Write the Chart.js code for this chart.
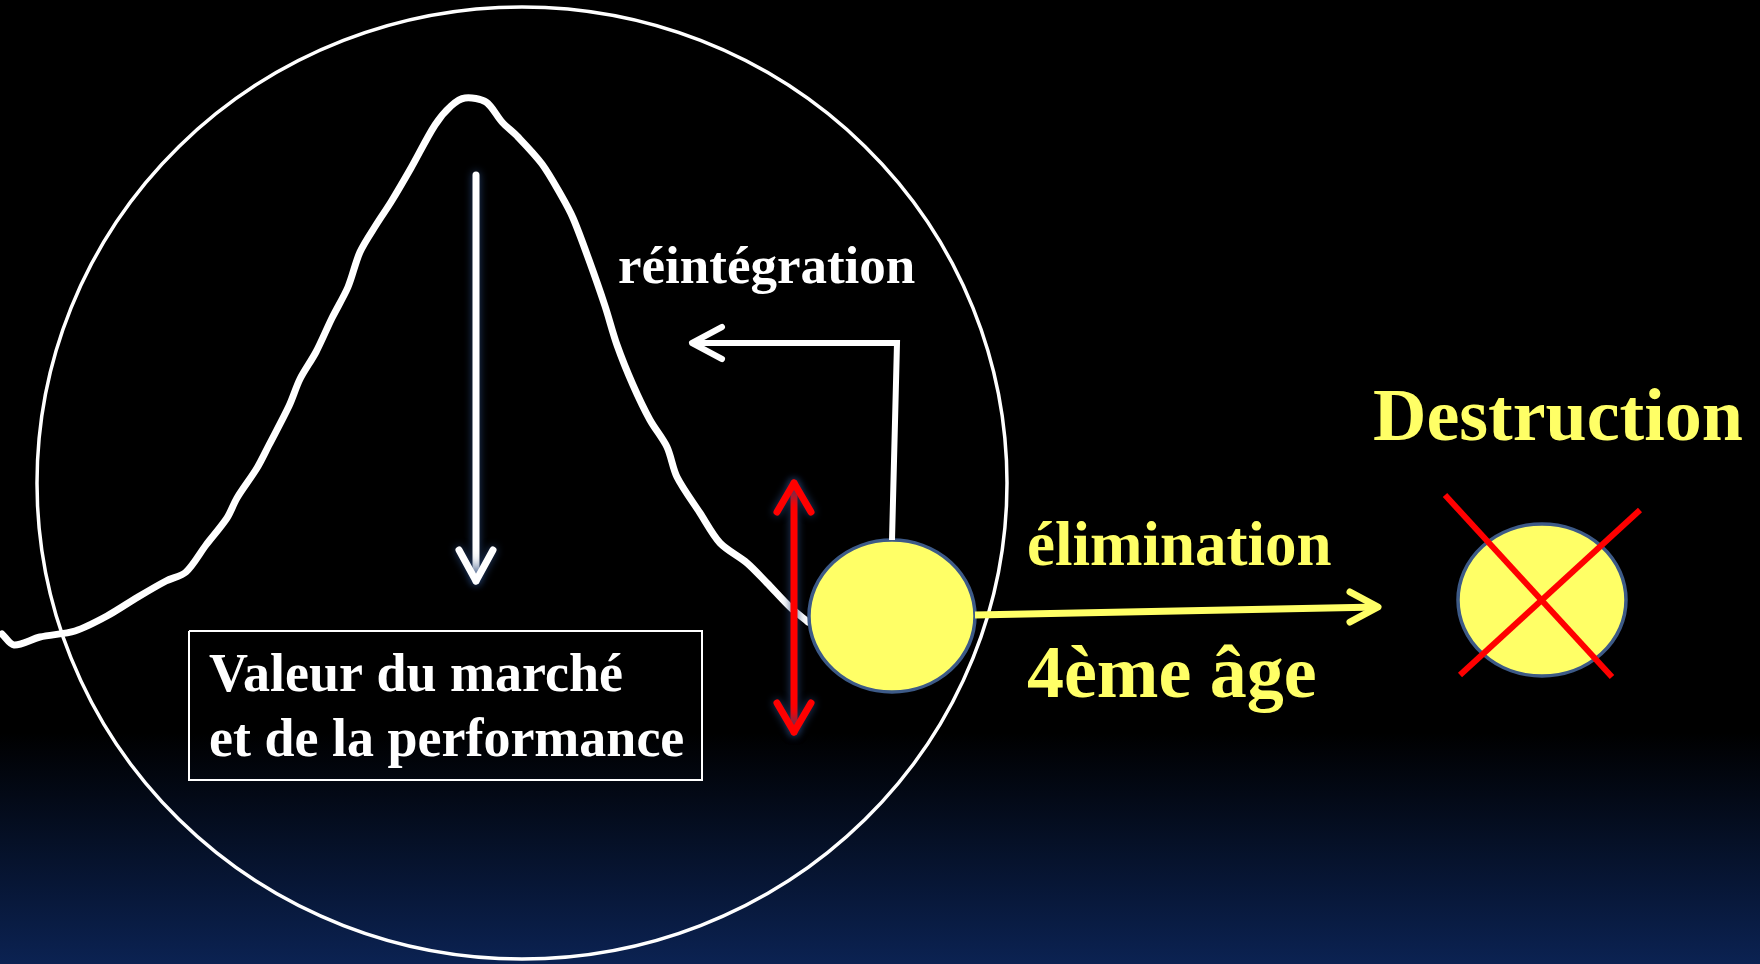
<!DOCTYPE html>
<html lang="fr">
<head>
<meta charset="utf-8">
<title>Valeur du marché</title>
<script src="https://cdn.jsdelivr.net/npm/chart.js@4/dist/chart.umd.min.js"></script>
<style>
  html, body { margin: 0; padding: 0; background: #000; overflow: hidden; }
  canvas { display: block; }
</style>
</head>
<body>
<canvas id="schema" width="1760" height="964"></canvas>
<script>
// courbe de valeur (repère 0..1760 x 0..964, y vers le bas)
const courbeX = [2, 14, 40, 75, 107, 138, 166, 186, 206, 227, 237, 257, 269, 289, 300, 316, 332, 348, 360, 376, 391, 411, 435, 451, 465, 486, 502, 518, 542, 561, 573, 589, 605, 617, 633, 650, 667, 677, 700, 720, 747, 767, 790, 808];
const courbeY = [634, 645, 637, 631, 616, 597, 581, 572, 545, 518, 498, 468, 445, 406, 379, 352, 318, 287, 252, 225, 202, 168, 125, 106, 98, 102, 122, 137, 164, 195, 218, 260, 306, 345, 385, 420, 447, 477, 513, 543, 563, 583, 607, 622];

// grand cercle : centre x, centre y, rayon x, rayon y
const cercle = [522, 483, 485, 476];

// ellipses jaunes (4ème âge, détruite)
const ellipseX = [892, 1542];
const ellipseY = [616, 600];
const ellipseRx = [83, 84];
const ellipseRy = [76, 76];

// flèches
const flecheBlancheX = [476, 476];
const flecheBlancheY = [175, 581];
const pointeBlancheX = [459, 476, 493];
const pointeBlancheY = [550, 581, 550];

const connecteurX = [892, 897, 692];
const connecteurY = [540, 343, 343];
const pointeConnecteurX = [722, 692, 722];
const pointeConnecteurY = [327, 343, 359];

const flecheRougeX = [794, 794];
const flecheRougeY = [483, 732];
const pointeHautX = [777, 794, 811];
const pointeHautY = [512, 483, 512];
const pointeBasX = [777, 794, 811];
const pointeBasY = [703, 732, 703];

const flecheJauneX = [975, 1378];
const flecheJauneY = [615, 607];
const pointeJauneX = [1350, 1378, 1350];
const pointeJauneY = [592, 607, 622];

// croix rouge
const croix1X = [1445, 1612];
const croix1Y = [495, 677];
const croix2X = [1640, 1460];
const croix2Y = [510, 675];

// cadre du texte
const cadreX = [189, 702, 702, 189, 189];
const cadreY = [631, 631, 780, 780, 631];

// textes
const textes = ["réintégration", "Valeur du marché", "et de la performance", "élimination", "4ème âge", "Destruction"];
const texteX = [618, 209, 209, 1027, 1027, 1373];
const texteY = [283, 691, 756, 565, 697, 440];

const BLANC = "#ffffff";
const JAUNE = "#ffff66";
const ROUGE = "#ff0000";
const BORD = "#3d5a87";
const policeTextes = [53, 54, 54, 63, 74, 74];
const couleurTextes = [BLANC, BLANC, BLANC, JAUNE, JAUNE, JAUNE];

function pts(xs, ys) {
  return xs.map((x, i) => ({ x: x, y: ys[i] }));
}

function trait(label, xs, ys, couleur, largeur, ordre, extra) {
  return Object.assign({
    label: label,
    data: pts(xs, ys),
    showLine: true,
    borderColor: couleur,
    borderWidth: largeur,
    pointRadius: 0,
    borderCapStyle: "round",
    borderJoinStyle: "round",
    fill: false,
    clip: false,
    tension: 0,
    order: ordre
  }, extra || {});
}

// fond dégradé + cercle + ellipses + textes
const dessins = {
  id: "dessins",
  beforeDraw(chart) {
    const ctx = chart.ctx;
    const g = ctx.createLinearGradient(0, 0, 0, chart.height);
    g.addColorStop(0, "#000000");
    g.addColorStop(0.76, "#000000");
    g.addColorStop(1, "#0b2252");
    ctx.save();
    ctx.fillStyle = g;
    ctx.fillRect(0, 0, chart.width, chart.height);
    ctx.restore();
  },
  beforeDatasetsDraw(chart) {
    const ctx = chart.ctx, sx = chart.scales.x, sy = chart.scales.y;
    const cx = sx.getPixelForValue(cercle[0]), cy = sy.getPixelForValue(cercle[1]);
    const rx = Math.abs(sx.getPixelForValue(cercle[0] + cercle[2]) - cx);
    const ry = Math.abs(sy.getPixelForValue(cercle[1] + cercle[3]) - cy);
    ctx.save();
    ctx.strokeStyle = BLANC;
    ctx.lineWidth = 3.5;
    ctx.beginPath();
    ctx.ellipse(cx, cy, rx, ry, 0, 0, Math.PI * 2);
    ctx.stroke();
    ctx.restore();
  },
  beforeDatasetDraw(chart, args) {
    const lab = chart.data.datasets[args.index].label;
    const ctx = chart.ctx;
    ctx.save();
    if (lab.startsWith("rouge") || lab.startsWith("blanche")) {
      ctx.shadowColor = "rgba(40,70,120,0.9)";
      ctx.shadowBlur = 8;
    }
  },
  afterDatasetDraw(chart, args) {
    const ctx = chart.ctx;
    ctx.restore();
    if (chart.data.datasets[args.index].label !== "courbe") return;
    const sx = chart.scales.x, sy = chart.scales.y;
    ctx.save();
    for (let i = 0; i < ellipseX.length; i++) {
      const cx = sx.getPixelForValue(ellipseX[i]);
      const cy = sy.getPixelForValue(ellipseY[i]);
      const rx = Math.abs(sx.getPixelForValue(ellipseX[i] + ellipseRx[i]) - cx);
      const ry = Math.abs(sy.getPixelForValue(ellipseY[i] + ellipseRy[i]) - cy);
      ctx.beginPath();
      ctx.ellipse(cx, cy, rx, ry, 0, 0, Math.PI * 2);
      ctx.fillStyle = JAUNE;
      ctx.fill();
      ctx.strokeStyle = BORD;
      ctx.lineWidth = 3.5;
      ctx.stroke();
    }
    ctx.restore();
  },
  afterDatasetsDraw(chart) {
    const ctx = chart.ctx, sx = chart.scales.x, sy = chart.scales.y;
    ctx.save();
    ctx.textAlign = "left";
    ctx.textBaseline = "alphabetic";
    textes.forEach((t, i) => {
      ctx.font = "bold " + policeTextes[i] + "px 'Liberation Serif', 'Times New Roman', serif";
      ctx.fillStyle = couleurTextes[i];
      ctx.fillText(t, sx.getPixelForValue(texteX[i]), sy.getPixelForValue(texteY[i]));
    });
    ctx.restore();
  }
};

new Chart(document.getElementById("schema"), {
  type: "scatter",
  data: {
    datasets: [
      trait("courbe", courbeX, courbeY, BLANC, 7, 20, { tension: 0.3 }),
      trait("cadre", cadreX, cadreY, BLANC, 2, 15, { borderCapStyle: "butt", borderJoinStyle: "miter" }),
      trait("blanche", flecheBlancheX, flecheBlancheY, BLANC, 7, 14, { borderCapStyle: "butt" }),
      trait("blanche pointe", pointeBlancheX, pointeBlancheY, BLANC, 7, 13),
      trait("connecteur", connecteurX, connecteurY, BLANC, 6, 12, { borderCapStyle: "butt", borderJoinStyle: "miter" }),
      trait("connecteur pointe", pointeConnecteurX, pointeConnecteurY, BLANC, 6, 11),
      trait("rouge", flecheRougeX, flecheRougeY, ROUGE, 7, 10, { borderCapStyle: "butt" }),
      trait("rouge haut", pointeHautX, pointeHautY, ROUGE, 7, 9),
      trait("rouge bas", pointeBasX, pointeBasY, ROUGE, 7, 8),
      trait("jaune", flecheJauneX, flecheJauneY, JAUNE, 7, 7, { borderCapStyle: "butt" }),
      trait("jaune pointe", pointeJauneX, pointeJauneY, JAUNE, 7, 6),
      trait("croix 1", croix1X, croix1Y, ROUGE, 6, 5, { borderCapStyle: "butt" }),
      trait("croix 2", croix2X, croix2Y, ROUGE, 6, 4, { borderCapStyle: "butt" })
    ]
  },
  options: {
    responsive: false,
    animation: false,
    devicePixelRatio: 1,
    layout: { padding: 0 },
    events: [],
    scales: {
      x: { type: "linear", min: 0, max: 1760, display: false },
      y: { type: "linear", min: 0, max: 964, reverse: true, display: false }
    },
    plugins: {
      legend: { display: false },
      tooltip: { enabled: false }
    }
  },
  plugins: [dessins]
});
</script>
</body>
</html>
